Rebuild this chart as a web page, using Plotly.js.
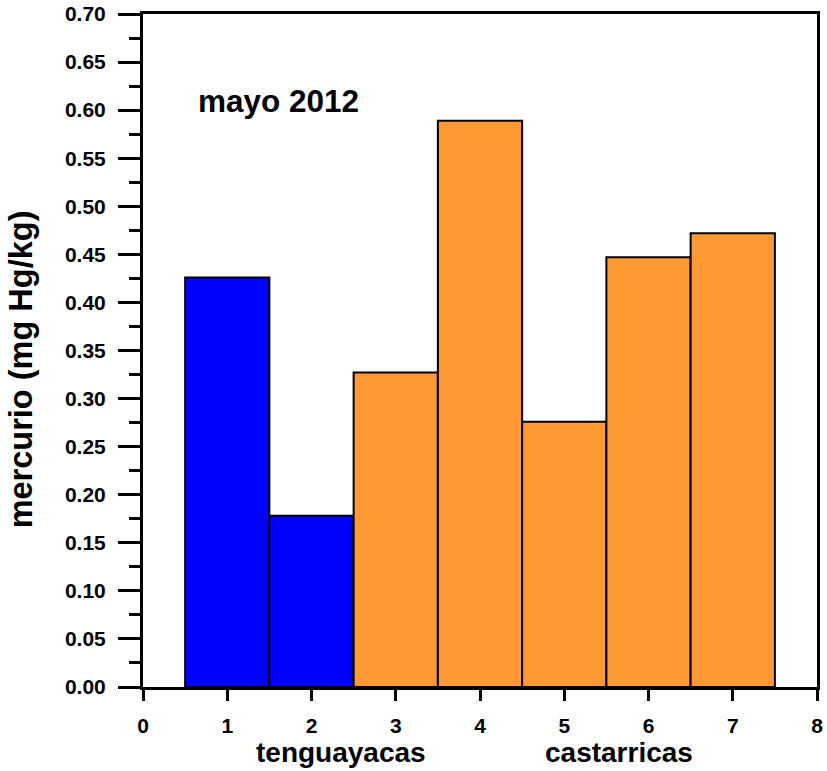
<!DOCTYPE html>
<html>
<head>
<meta charset="utf-8">
<script src="https://cdn.plot.ly/plotly-3.0.1.min.js"></script>
<style>html,body{margin:0;padding:0;background:#fff;}#chart{width:827px;height:771px;}</style>
</head>
<body>
<div id="chart"></div>
<script>
const positions = [1, 2, 3, 4, 5, 6, 7];
const mercurio = [0.426, 0.178, 0.327, 0.589, 0.276, 0.447, 0.472];
const barColors = ['#0000FF', '#0000FF', '#FF9933', '#FF9933', '#FF9933', '#FF9933', '#FF9933'];
const groupLabels = ['tenguayacas', 'castarricas'];
const groupLabelX = [2.35, 5.65];
const chartTitle = 'mayo 2012';
const yTitle = 'mercurio (mg Hg/kg)';

const font = 'Liberation Sans, Arial, sans-serif';

const trace = {
  type: 'bar',
  x: positions,
  y: mercurio,
  width: 1,
  marker: { color: barColors, line: { color: '#000', width: 2 } },
  hoverinfo: 'x+y'
};

const annotations = [
  { text: '<b>' + chartTitle + '</b>', xref: 'paper', yref: 'paper', x: 0.078, y: 0.871,
    xanchor: 'left', yanchor: 'middle', showarrow: false, font: { family: font, size: 31.5, color: '#000' } },
  { text: '<b>' + yTitle + '</b>', xref: 'paper', yref: 'paper', x: -0.181, y: 0.472, textangle: -90,
    xanchor: 'center', yanchor: 'middle', showarrow: false, font: { family: font, size: 32.5, color: '#000' } }
];
groupLabels.forEach((t, i) => annotations.push({
  text: '<b>' + t + '</b>', xref: 'x', yref: 'paper', x: groupLabelX[i], y: -0.097,
  xanchor: 'center', yanchor: 'middle', showarrow: false, font: { family: font, size: 28, color: '#000' }
}));

const layout = {
  width: 827, height: 771,
  margin: { l: 143, r: 10, t: 14, b: 84 },
  paper_bgcolor: '#fff', plot_bgcolor: '#fff',
  showlegend: false,
  font: { family: font, color: '#000' },
  xaxis: {
    range: [0, 8], dtick: 1, tick0: 0, showgrid: false, zeroline: false,
    showline: true, linecolor: '#000', linewidth: 3, mirror: true,
    ticks: 'outside', ticklen: 11, tickwidth: 3, tickcolor: '#000',
    ticklabelstandoff: 7,
    tickfont: { family: font, size: 21, color: '#000', weight: 'bold' }
  },
  yaxis: {
    range: [0, 0.7], dtick: 0.05, tick0: 0, tickformat: '.2f', showgrid: false, zeroline: false,
    showline: true, linecolor: '#000', linewidth: 3, mirror: true,
    ticks: 'outside', ticklen: 22, tickwidth: 3, tickcolor: '#000',
    ticklabelstandoff: 8,
    minor: { dtick: 0.025, ticks: 'outside', ticklen: 11, tickwidth: 3, tickcolor: '#000', showgrid: false },
    tickfont: { family: font, size: 21, color: '#000', weight: 'bold' }
  },
  annotations: annotations
};

Plotly.newPlot('chart', [trace], layout, { displayModeBar: false, staticPlot: true });
</script>
</body>
</html>
